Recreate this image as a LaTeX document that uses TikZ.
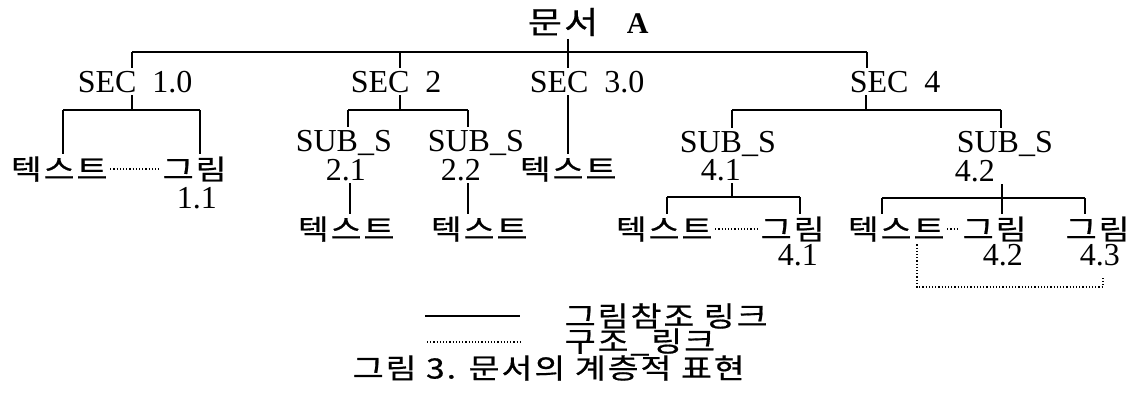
\documentclass[tikz,border=0pt]{standalone}
\usepackage{fontspec}
\setmainfont{Liberation Serif}
\newfontfamily\kr[LetterSpace=7,FakeStretch=1.2,FakeBold=0.6]{Noto Sans CJK KR}
\begin{document}
\begin{tikzpicture}[x=0.5pt,y=-0.5pt,
  lat/.style={font=\fontsize{16}{18}\selectfont, inner sep=1.2pt, anchor=base west},
  han/.style={font=\kr\fontsize{14}{16}\selectfont, inner sep=1.2pt, anchor=west},
  tree/.style={line width=1pt},
  slink/.style={line width=0.6pt, densely dotted}]
\useasboundingbox (0,0) rectangle (1131,403);
% root
\node[han, font=\kr\fontsize{15.5}{17}\selectfont] (doc) at (525,22) {문서};
\node[lat, font=\bfseries\fontsize{15}{17}\selectfont] (A) at (624,33) {A};
% sections
\node[lat] (sec1) at (75,92) {SEC~~1.0};
\node[lat] (sec2) at (348,92) {SEC~~2};
\node[lat] (sec3) at (527,92) {SEC~~3.0};
\node[lat] (sec4) at (847,92) {SEC~~4};
% SEC 1.0 children
\node[han] (tx1) at (8,169) {텍스트};
\node[han] (fig1) at (160,169) {그림};
\node[lat] (f11) at (174,208) {1.1};
% SEC 2 children
\node[lat] (suba) at (293,151) {SUB\_S};
\node[lat] (n21) at (323,180) {2.1};
\node[lat] (subb) at (425,151) {SUB\_S};
\node[lat] (n22) at (438,180) {2.2};
\node[han] (tx21) at (295,229) {텍스트};
\node[han] (tx22) at (428,229) {텍스트};
% SEC 3.0 child
\node[han] (tx3) at (517,169) {텍스트};
% SEC 4 children
\node[lat] (subc) at (677,152) {SUB\_S};
\node[lat] (n41) at (698,180) {4.1};
\node[lat] (subd) at (954,152) {SUB\_S};
\node[lat] (n42) at (952,181) {4.2};
\node[han] (tx41) at (613,229) {텍스트};
\node[han] (fig41) at (758,229) {그림};
\node[lat] (f41) at (775,265) {4.1};
\node[han] (tx42) at (845,229) {텍스트};
\node[han] (fig42) at (960,229) {그림};
\node[lat] (f42) at (980,265) {4.2};
\node[han] (fig43) at (1063,229) {그림};
\node[lat] (f43) at (1077,265) {4.3};
% junction coordinates
\coordinate (t0) at (568,52);
\coordinate (tL) at (132,52);
\coordinate (t2) at (400,52);
\coordinate (tR) at (867,52);
\coordinate (s1) at (132,110);
\coordinate (s1a) at (63,110);
\coordinate (s1b) at (200,110);
\coordinate (s2) at (400,110);
\coordinate (s2a) at (348,110);
\coordinate (s2b) at (468,110);
\coordinate (c21) at (350,200);
\coordinate (c22) at (468,200);
\coordinate (s4) at (866,110);
\coordinate (s4a) at (732,110);
\coordinate (s4b) at (1001,110);
\coordinate (u1) at (732,197);
\coordinate (u1a) at (667,197);
\coordinate (u1b) at (800,197);
\coordinate (u2) at (1002,198);
\coordinate (u2a) at (882,198);
\coordinate (u2b) at (1085,198);
\coordinate (d1) at (917,287);
\coordinate (d2) at (1103,287);
\coordinate (d3) at (1103,276);
% top level
\draw[tree] (doc.south -| t0) -- (t0);
\draw[tree] (tL) -- (tR);
\draw[tree] (tL) -- (tL |- sec1.north);
\draw[tree] (t2) -- (t2 |- sec2.north);
\draw[tree] (t0) -- (t0 |- sec3.north);
\draw[tree] (tR) -- (tR |- sec4.north);
% SEC 1.0
\draw[tree] (sec1.south -| s1) -- (s1);
\draw[tree] (s1a) -- (s1b);
\draw[tree] (s1a) -- (s1a |- tx1.north);
\draw[tree] (s1b) -- (s1b |- fig1.north);
\draw[slink] (tx1.east) -- (fig1.west);
% SEC 2
\draw[tree] (sec2.south -| s2) -- (s2);
\draw[tree] (s2a) -- (s2b);
\draw[tree] (s2a) -- (s2a |- suba.north);
\draw[tree] (s2b) -- (s2b |- subb.north);
\draw[tree] (n21.south -| c21) -- (c21 |- tx21.north);
\draw[tree] (n22.south -| c22) -- (c22 |- tx22.north);
% SEC 3.0
\draw[tree] (sec3.south -| t0) -- (t0 |- tx3.north);
% SEC 4
\draw[tree] (sec4.south -| s4) -- (s4);
\draw[tree] (s4a) -- (s4b);
\draw[tree] (s4a) -- (s4a |- subc.north);
\draw[tree] (s4b) -- (s4b |- subd.north);
\draw[tree] (n41.south -| u1) -- (u1);
\draw[tree] (u1a) -- (u1b);
\draw[tree] (u1a) -- (u1a |- tx41.north);
\draw[tree] (u1b) -- (u1b |- fig41.north);
\draw[slink] (tx41.east) -- (fig41.west);
\draw[tree] (n42.south -| u2) -- (u2 |- fig42.north);
\draw[tree] (u2a) -- (u2b);
\draw[tree] (u2a) -- (u2a |- tx42.north);
\draw[tree] (u2b) -- (u2b |- fig43.north);
\draw[slink] (tx42.east) -- (fig42.west);
\draw[slink] (tx42.south -| d1) -- (d1) -- (d2) -- (d3);
% legend
\coordinate (la) at (425,316);
\coordinate (lb) at (520,316);
\coordinate (lc) at (427,342);
\coordinate (ld) at (520,342);
\draw[tree] (la) -- (lb);
\draw[slink] (lc) -- (ld);
\node[han] (lg1) at (562,316) {그림참조 링크};
\node[han] (lg2) at (562,342) {구조\_링크};
\node[han] (cap) at (350,368) {그림 3. 문서의 계층적 표현};
\end{tikzpicture}
\end{document}
